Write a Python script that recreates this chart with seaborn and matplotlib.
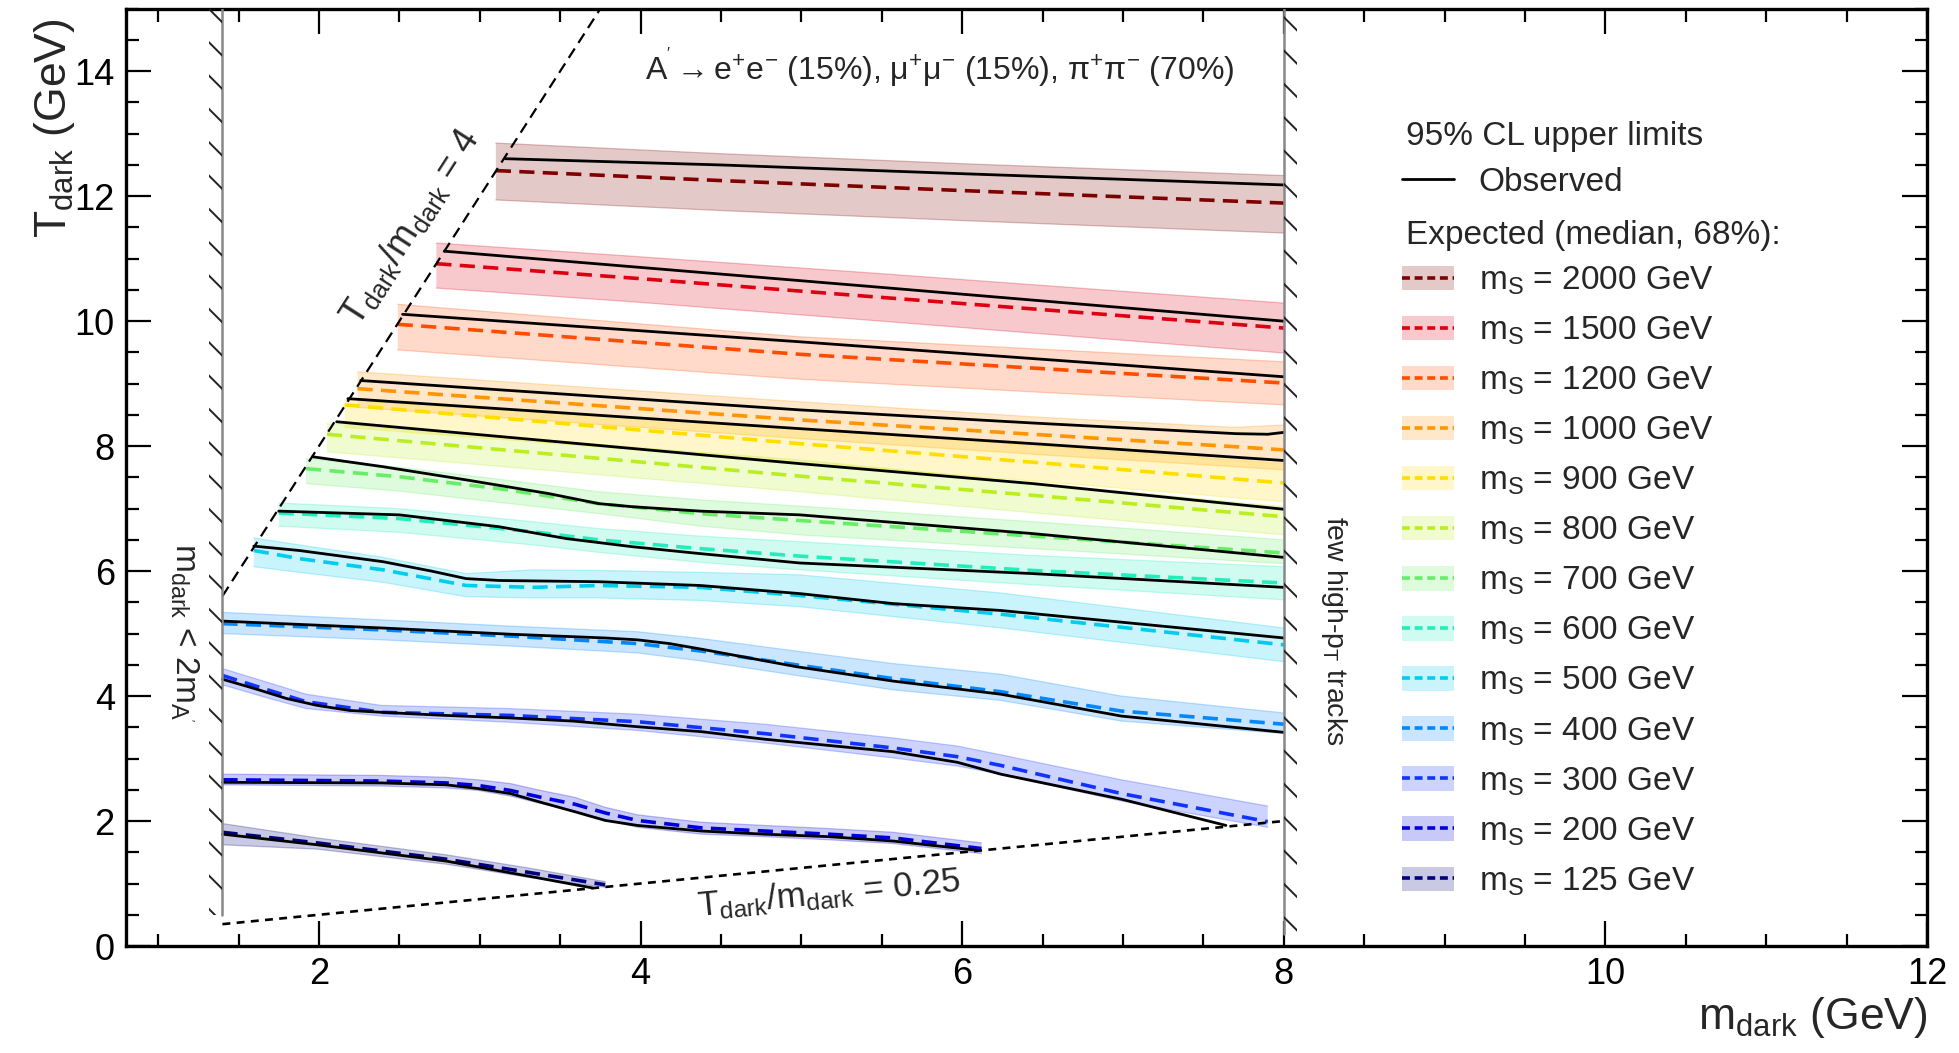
import numpy as np
import pandas as pd
import matplotlib
matplotlib.use("Agg")
import matplotlib.pyplot as plt
import seaborn as sns
from matplotlib.ticker import MultipleLocator
from matplotlib.patches import Patch
from matplotlib.lines import Line2D

# ---------------- data ----------------
masses = [2000, 1500, 1200, 1000, 900, 800, 700, 600, 500, 400, 300, 200, 125]
colors = {2000: "#800000", 1500: "#dd0010", 1200: "#ff4d00", 1000: "#ff9500",
          900: "#ffdd00", 800: "#bbee22", 700: "#66ee66", 600: "#22eebb",
          500: "#00ccee", 400: "#0088ff", 300: "#1133ff", 200: "#0000dd",
          125: "#000080"}

exp_x = {
    2000: [3.10, 4.5, 6.0, 8.0],
    1500: [2.73, 4.0, 5.5, 8.0],
    1200: [2.49, 4.99, 6.5, 8.0],
    1000: [2.24, 4.99, 6.5, 7.7, 8.0],
    900: [2.16, 4.99, 6.5, 8.0],
    800: [2.05, 4.99, 6.5, 8.0],
    700: [1.92, 2.5, 3.12, 3.74, 4.37, 4.99, 6.5, 8.0],
    600: [1.75, 2.5, 3.33, 3.74, 4.37, 4.99, 6.44, 8.0],
    500: [1.595, 1.877, 2.4, 2.915, 3.33, 3.74, 4.37, 4.99, 6.24, 8.0],
    400: [1.4, 2.39, 3.19, 3.98, 4.38, 4.97, 5.57, 6.24, 6.99, 8.0],
    300: [1.4, 1.68, 1.92, 2.39, 3.19, 3.98, 4.77, 5.57, 5.97, 6.24, 6.99, 7.9],
    200: [1.4, 2.39, 2.79, 2.99, 3.19, 3.38, 3.59, 3.78, 3.98, 4.38, 4.77, 5.17, 5.57, 6.12],
    125: [1.4, 1.99, 2.79, 3.3, 3.78],
}
exp_y = {
    2000: [12.41, 12.25, 12.09, 11.89],
    1500: [10.92, 10.68, 10.38, 9.89],
    1200: [9.95, 9.47, 9.24, 9.01],
    1000: [8.92, 8.42, 8.18, 7.99, 7.94],
    900: [8.66, 8.04, 7.73, 7.41],
    800: [8.19, 7.52, 7.20, 6.87],
    700: [7.64, 7.51, 7.32, 7.08, 6.92, 6.81, 6.55, 6.29],
    600: [6.93, 6.84, 6.63, 6.50, 6.36, 6.24, 6.01, 5.81],
    500: [6.33, 6.20, 6.02, 5.77, 5.74, 5.77, 5.74, 5.61, 5.31, 4.82],
    400: [5.16, 5.06, 4.96, 4.84, 4.72, 4.50, 4.28, 4.07, 3.76, 3.55],
    300: [4.33, 4.10, 3.91, 3.74, 3.69, 3.59, 3.40, 3.17, 3.03, 2.89, 2.44, 1.99],
    200: [2.66, 2.64, 2.61, 2.57, 2.49, 2.38, 2.27, 2.13, 2.01, 1.89, 1.84, 1.79, 1.73, 1.56],
    125: [1.82, 1.65, 1.39, 1.18, 0.98],
}
band_hi = {
    2000: [12.85, 12.68, 12.52, 12.33],
    1500: [11.25, 11.03, 10.76, 10.29],
    1200: [10.27, 9.75, 9.55, 9.35],
    1000: [9.19, 8.71, 8.46, 8.30, 8.34],
    900: [8.74, 8.28, 8.00, 7.72],
    800: [8.36, 7.78, 7.40, 7.03],
    700: [7.80, 7.66, 7.47, 7.27, 7.14, 7.04, 6.78, 6.50],
    600: [7.09, 7.00, 6.79, 6.68, 6.56, 6.47, 6.25, 6.07],
    500: [6.53, 6.42, 6.22, 5.96, 6.02, 6.01, 5.98, 5.94, 5.65, 5.09],
    400: [5.34, 5.22, 5.12, 5.03, 4.92, 4.72, 4.52, 4.35, 4.00, 3.73],
    300: [4.44, 4.22, 4.03, 3.85, 3.80, 3.71, 3.55, 3.33, 3.20, 3.06, 2.66, 2.24],
    200: [2.75, 2.73, 2.70, 2.66, 2.60, 2.49, 2.38, 2.22, 2.10, 1.98, 1.93, 1.88, 1.82, 1.65],
    125: [1.96, 1.73, 1.46, 1.25, 1.03],
}
band_lo = {
    2000: [11.94, 11.77, 11.61, 11.41],
    1500: [10.53, 10.30, 10.00, 9.49],
    1200: [9.54, 9.07, 8.86, 8.66],
    1000: [8.62, 8.12, 7.86, 7.67, 7.62],
    900: [8.30, 7.74, 7.43, 7.11],
    800: [7.91, 7.27, 6.92, 6.58],
    700: [7.40, 7.28, 7.10, 6.92, 6.72, 6.58, 6.35, 6.12],
    600: [6.72, 6.62, 6.42, 6.30, 6.14, 6.02, 5.78, 5.54],
    500: [6.07, 5.98, 5.82, 5.59, 5.57, 5.57, 5.53, 5.43, 5.09, 4.55],
    400: [5.00, 4.90, 4.80, 4.69, 4.56, 4.33, 4.10, 3.93, 3.60, 3.40],
    300: [4.18, 3.97, 3.80, 3.68, 3.58, 3.45, 3.25, 3.01, 2.88, 2.75, 2.32, 1.90],
    200: [2.58, 2.56, 2.53, 2.49, 2.40, 2.28, 2.16, 2.02, 1.90, 1.79, 1.75, 1.70, 1.64, 1.48],
    125: [1.62, 1.55, 1.31, 1.10, 0.94],
}
obs_x = {
    2000: [3.16, 4.5, 6.0, 8.0],
    1500: [2.78, 4.0, 5.5, 8.0],
    1200: [2.52, 4.99, 6.5, 8.0],
    1000: [2.26, 4.99, 6.44, 7.7, 7.9, 8.0],
    900: [2.18, 4.99, 6.5, 8.0],
    800: [2.11, 4.99, 6.44, 8.0],
    700: [1.96, 2.4, 2.915, 3.43, 3.74, 3.95, 4.37, 4.99, 6.44, 8.0],
    600: [1.75, 2.5, 3.12, 3.54, 3.95, 4.37, 4.99, 6.44, 8.0],
    500: [1.595, 1.877, 2.4, 2.7, 2.915, 3.12, 3.74, 4.37, 4.99, 5.57, 6.24, 8.0],
    400: [1.4, 2.39, 3.19, 3.78, 3.98, 4.18, 4.38, 4.97, 5.57, 6.24, 6.99, 8.0],
    300: [1.4, 1.6, 1.8, 1.99, 2.19, 2.39, 2.79, 3.19, 3.58, 3.98, 4.38, 4.77, 5.17,
          5.57, 5.97, 6.24, 6.99, 7.64],
    200: [1.4, 2.39, 2.79, 2.99, 3.19, 3.38, 3.59, 3.78, 3.98, 4.38, 4.77, 5.17, 5.57, 6.10],
    125: [1.4, 1.99, 2.79, 3.3, 3.70],
}
obs_y = {
    2000: [12.60, 12.50, 12.36, 12.18],
    1500: [11.12, 10.86, 10.54, 10.00],
    1200: [10.11, 9.67, 9.39, 9.11],
    1000: [9.05, 8.58, 8.37, 8.20, 8.19, 8.22],
    900: [8.76, 8.28, 8.03, 7.77],
    800: [8.39, 7.72, 7.40, 6.99],
    700: [7.83, 7.67, 7.46, 7.24, 7.08, 7.03, 6.96, 6.90, 6.60, 6.22],
    600: [6.96, 6.90, 6.71, 6.52, 6.39, 6.28, 6.13, 5.96, 5.74],
    500: [6.40, 6.33, 6.15, 6.00, 5.88, 5.85, 5.83, 5.77, 5.64, 5.48, 5.37, 4.93],
    400: [5.20, 5.09, 4.99, 4.93, 4.90, 4.84, 4.75, 4.47, 4.24, 4.03, 3.68, 3.42],
    300: [4.27, 4.12, 3.96, 3.85, 3.77, 3.74, 3.69, 3.65, 3.60, 3.51, 3.43, 3.31, 3.21,
          3.11, 2.94, 2.75, 2.35, 1.93],
    200: [2.62, 2.61, 2.58, 2.52, 2.44, 2.30, 2.15, 2.01, 1.93, 1.84, 1.79, 1.75, 1.68, 1.53],
    125: [1.79, 1.62, 1.36, 1.12, 0.93],
}

# boundaries of the analysis region
m_dark_low = 1.4
m_dark_high = 8.0
ratio_high = 4.0
ratio_low = 0.25
low_wall_bottom = 0.5
high_wall_bottom = 0.2

# ---------------- style ----------------
sns.set_theme(style="ticks")
plt.rcParams["font.family"] = ["Liberation Sans", "DejaVu Sans"]
plt.rcParams["mathtext.fontset"] = "custom"
plt.rcParams["mathtext.rm"] = "Liberation Sans"
plt.rcParams["mathtext.it"] = "Liberation Sans:italic"
plt.rcParams["mathtext.bf"] = "Liberation Sans:bold"
plt.rcParams["hatch.linewidth"] = 1.4
plt.rcParams["lines.solid_joinstyle"] = "round"
plt.rcParams["lines.dash_joinstyle"] = "round"

fig = plt.figure(figsize=(19.59, 10.53), dpi=100)
ax = fig.add_axes([0.0643, 0.1016, 0.9194, 0.8901])
ax.set_facecolor("white")

BAND_ALPHA = 0.21
for m in masses:
    c = colors[m]
    ax.fill_between(exp_x[m], band_lo[m], band_hi[m], facecolor=c, alpha=BAND_ALPHA,
                    edgecolor="none", zorder=1)
    ax.plot(exp_x[m], band_hi[m], color=c, alpha=0.25, lw=0.9, zorder=1)
    ax.plot(exp_x[m], band_lo[m], color=c, alpha=0.25, lw=0.9, zorder=1)

for m in masses:
    sns.lineplot(x=exp_x[m], y=exp_y[m], ax=ax, color=colors[m], lw=2.6,
                 estimator=None, sort=False, zorder=3)
    ax.lines[-1].set_dashes((4.2, 2.3))
for m in masses:
    sns.lineplot(x=obs_x[m], y=obs_y[m], ax=ax, color="black", lw=2.0,
                 estimator=None, sort=False, zorder=4)

# kinematic boundaries
xl = np.array([m_dark_low, 15.0 / ratio_high])
ax.plot(xl, ratio_high * xl, color="black", lw=1.6, ls=(0, (5, 3)), zorder=5)
xb = np.array([m_dark_low, m_dark_high])
ax.plot(xb, ratio_low * xb, color="black", lw=1.9, ls=(0, (3, 2.4)), zorder=5)

# hatched walls
ax.plot([m_dark_low, m_dark_low], [low_wall_bottom, 15], color="#888888", lw=1.8, zorder=6)
ax.fill_betweenx([low_wall_bottom, 15], m_dark_low - 0.085, m_dark_low, hatch="\\",
                 facecolor="none", edgecolor="#222222", linewidth=0, zorder=6)
ax.plot([m_dark_high, m_dark_high], [high_wall_bottom, 15], color="#888888", lw=1.8, zorder=6)
ax.fill_betweenx([high_wall_bottom, 15], m_dark_high, m_dark_high + 0.085, hatch="\\",
                 facecolor="none", edgecolor="#222222", linewidth=0, zorder=6)

# axes
ax.set_xlim(0.8, 12)
ax.set_ylim(0, 15)
ax.xaxis.set_major_locator(MultipleLocator(2))
ax.xaxis.set_minor_locator(MultipleLocator(0.5))
ax.yaxis.set_major_locator(MultipleLocator(2))
ax.yaxis.set_minor_locator(MultipleLocator(0.5))
ax.set_xticks([2, 4, 6, 8, 10, 12])
ax.tick_params(which="both", direction="in", top=True, right=True, width=1.6, colors="black")
ax.tick_params(which="major", length=18, labelsize=26, pad=8)
ax.tick_params(which="minor", length=9)
for s in ax.spines.values():
    s.set_linewidth(2.4)
    s.set_color("black")

ax.set_xlabel(r"m$_{\mathrm{dark}}$ (GeV)", fontsize=32, loc="right")
ax.xaxis.set_label_coords(1.0, -0.052)
ax.set_ylabel(r"T$_{\mathrm{dark}}$ (GeV)", fontsize=32, loc="top")
ax.yaxis.set_label_coords(-0.027, 0.99)

# annotations
ax.text(5.86, 14.05,
        r"A$^{'}$$\rightarrow$e$^{+}$e$^{-}$ (15%), μ$^{+}$μ$^{-}$ (15%), π$^{+}$π$^{-}$ (70%)",
        fontsize=23, ha="center", va="center")
ax.text(2.57, 11.5, r"T$_{\mathrm{dark}}$/m$_{\mathrm{dark}}$ = 4", fontsize=26,
        rotation=57.3, rotation_mode="anchor", ha="center", va="center")
ax.text(5.17, 0.84, r"T$_{\mathrm{dark}}$/m$_{\mathrm{dark}}$ = 0.25", fontsize=25,
        rotation=5.5, rotation_mode="anchor", ha="center", va="center")
ax.text(1.16, 5.02, r"m$_{\mathrm{dark}}$ < 2m$_{\mathrm{A}^{'}}$", fontsize=24,
        rotation=-90, ha="center", va="center")
ax.text(8.31, 5.04, r"few high-p$_{\mathrm{T}}$ tracks", fontsize=20.5,
        rotation=-90, ha="center", va="center")

# legend
FS = 24
handles = [Line2D([], [], color="black", lw=2.0), Line2D([], [], color="none")]
labels = ["Observed", " "]
for m in masses:
    c = colors[m]
    handles.append((Patch(facecolor=c, alpha=BAND_ALPHA, edgecolor="none"),
                    Line2D([], [], color=c, lw=2.6, dashes=(2.2, 1.3))))
    labels.append(r"m$_{\mathrm{S}}$ = %d GeV" % m)
leg = ax.legend(handles, labels, loc="upper left", bbox_to_anchor=(0.7085, 0.8309),
                frameon=False, fontsize=FS, handlelength=1.55, handleheight=0.75,
                handletextpad=0.75, labelspacing=0.53, borderpad=0, borderaxespad=0)
ax.text(0.7105, 0.8634, "95% CL upper limits", transform=ax.transAxes, fontsize=FS,
        ha="left", va="center")
ax.text(0.7105, 0.7577, "Expected (median, 68%):", transform=ax.transAxes, fontsize=FS,
        ha="left", va="center")

fig.savefig("out.png", dpi=100, facecolor="white")
